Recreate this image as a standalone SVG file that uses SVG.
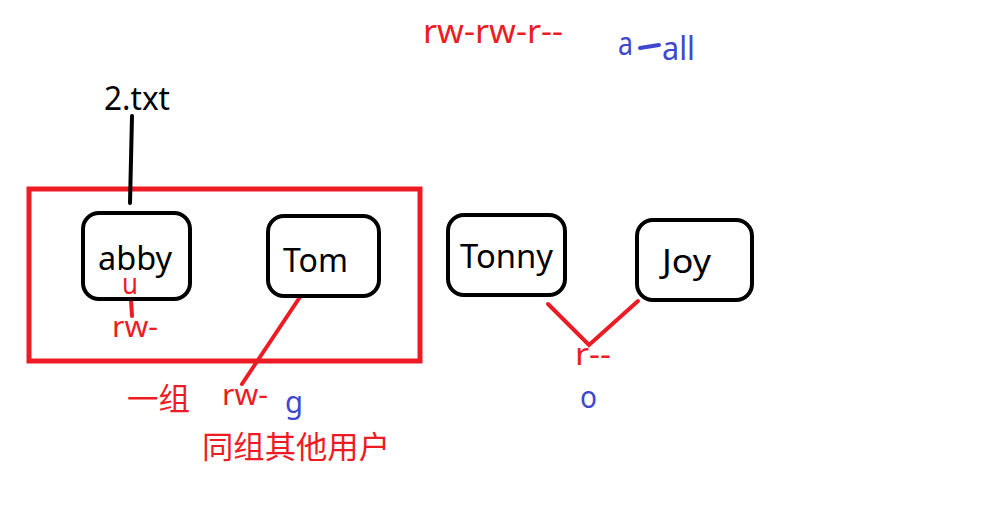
<svg xmlns="http://www.w3.org/2000/svg" width="983" height="512" viewBox="0 0 983 512">
<style>
text{font-family:"Noto Sans","Noto Sans CJK SC",sans-serif}
.k{fill:#000;font-size:32px}
.r{fill:#ed1c24}
.b{fill:#3f48cc}
.box{fill:#fff;stroke:#000;stroke-width:4}
.rl{stroke:#ed1c24;stroke-width:4;fill:none;stroke-linecap:round}
</style>
<rect width="983" height="512" fill="#fff"/>
<g id="group-frame"><rect x="29" y="189" width="391" height="172" fill="none" stroke="#ed1c24" stroke-width="5"/></g>
<g id="connectors">
<path d="M132 116 L130 203" stroke="#000" stroke-width="4" fill="none" stroke-linecap="round"/>
<path class="rl" d="M131 300 L132 316"/>
<path class="rl" d="M300 297 L242 384"/>
<path class="rl" d="M548 304 L589 345 L638 301"/>
<path d="M640 48 L659 45" stroke="#3f48cc" stroke-width="4" stroke-linecap="round"/>
</g>
<g id="file"><text x="104" y="110" class="k" font-size="30" textLength="66" lengthAdjust="spacingAndGlyphs">2.txt</text></g>
<g id="abby"><rect class="box" x="83" y="213" width="107" height="86" rx="16"/><text x="98" y="270" class="k" textLength="74" lengthAdjust="spacingAndGlyphs">abby</text></g>
<g id="tom"><rect class="box" x="268" y="216" width="111" height="80" rx="16"/><text x="283" y="272" class="k" textLength="65" lengthAdjust="spacingAndGlyphs">Tom</text></g>
<g id="tonny"><rect class="box" x="448" y="215" width="117" height="80" rx="16"/><text x="460" y="268" class="k" textLength="93" lengthAdjust="spacingAndGlyphs">Tonny</text></g>
<g id="joy"><rect class="box" x="637" y="220" width="115" height="80" rx="16"/><text x="662" y="273" class="k" textLength="49" lengthAdjust="spacingAndGlyphs">Joy</text></g>
<g id="labels">
<text x="122" y="294" class="r" font-size="29" textLength="16" lengthAdjust="spacingAndGlyphs">u</text>
<text x="112" y="337" class="r" font-size="29" textLength="46" lengthAdjust="spacingAndGlyphs">rw-</text>
<text x="222" y="405" class="r" font-size="29" textLength="46" lengthAdjust="spacingAndGlyphs">rw-</text>
<text x="285" y="413" class="b" font-size="30" textLength="18" lengthAdjust="spacingAndGlyphs">g</text>
<text x="127" y="410" class="r" font-size="31" textLength="63" lengthAdjust="spacingAndGlyphs">一组</text>
<text x="202" y="458" class="r" font-size="31" textLength="188" lengthAdjust="spacingAndGlyphs">同组其他用户</text>
<text x="423" y="43" class="r" font-size="32" textLength="140" lengthAdjust="spacingAndGlyphs">rw-rw-r--</text>
<text x="618" y="55" class="b" font-size="32" textLength="15" lengthAdjust="spacingAndGlyphs">a</text>
<text x="662" y="60" class="b" font-size="32" textLength="33" lengthAdjust="spacingAndGlyphs">all</text>
<text x="575" y="365" class="r" font-size="31" textLength="36" lengthAdjust="spacingAndGlyphs">r--</text>
<text x="580" y="408" class="b" font-size="30" textLength="17" lengthAdjust="spacingAndGlyphs">o</text>
</g>
</svg>
